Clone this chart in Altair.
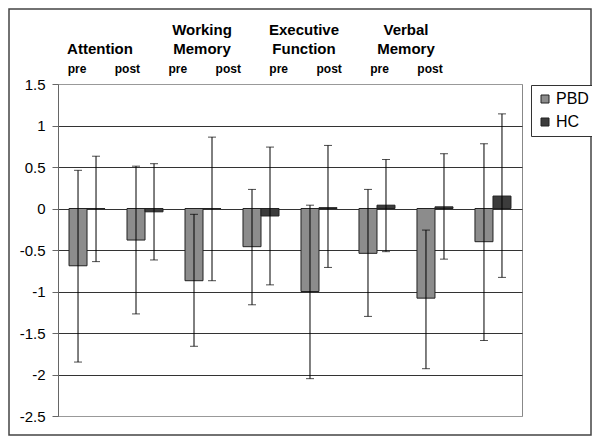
import altair as alt
import pandas as pd

# ---- data ----
groups = ["Attention pre", "Attention post", "Working Memory pre", "Working Memory post",
          "Executive Function pre", "Executive Function post", "Verbal Memory pre", "Verbal Memory post"]
phase_labels = ["pre", "post", "pre", "post", "pre", "post", "pre", "post"]
domains = ["Attention", "Working Memory", "Executive Function", "Verbal Memory"]
domain_line1 = ["", "Working", "Executive", "Verbal"]
domain_line2 = ["Attention", "Memory", "Function", "Memory"]
series = ["PBD", "HC"]

pbd_mean = [-0.69, -0.38, -0.87, -0.46, -1.00, -0.54, -1.08, -0.40]
pbd_hi = [0.46, 0.51, -0.07, 0.23, 0.04, 0.23, -0.26, 0.78]
pbd_lo = [-1.85, -1.27, -1.66, -1.16, -2.05, -1.30, -1.93, -1.59]
hc_mean = [0.0, -0.04, 0.0, -0.09, 0.01, 0.04, 0.02, 0.15]
hc_hi = [0.63, 0.54, 0.86, 0.74, 0.76, 0.59, 0.66, 1.14]
hc_lo = [-0.64, -0.62, -0.87, -0.92, -0.71, -0.52, -0.61, -0.83]

y_ticks = [1.5, 1, 0.5, 0, -0.5, -1, -1.5, -2, -2.5]

rows = []
for i, g in enumerate(groups):
    rows.append({"group": g, "series": "PBD", "mean": pbd_mean[i], "lo": pbd_lo[i], "hi": pbd_hi[i]})
    rows.append({"group": g, "series": "HC", "mean": hc_mean[i], "lo": hc_lo[i], "hi": hc_hi[i]})
df = pd.DataFrame(rows)

hdr_pp = pd.DataFrame({"group": groups, "label": phase_labels})
hdr_dom = pd.DataFrame({"domain": domains, "l1": domain_line1, "l2": domain_line2})

FONT = "Liberation Sans"

x_enc = alt.X("group:N", sort=groups, axis=None,
              scale=alt.Scale(paddingInner=0.379, paddingOuter=0.19))
xo_enc = alt.XOffset("series:N", sort=series, scale=alt.Scale(paddingInner=0, paddingOuter=0))
y_scale = alt.Scale(domain=[-2.5, 1.5], nice=False, zero=False)

bars = alt.Chart(df).mark_bar(stroke="#222", strokeWidth=1).encode(
    x=x_enc,
    xOffset=xo_enc,
    y=alt.Y("mean:Q", scale=y_scale, title=None,
            axis=alt.Axis(values=y_ticks, labelExpr="datum.value + ''",
                          labelFont=FONT, labelFontSize=15, labelColor="#000",
                          tickSize=6, labelPadding=7, tickColor="#666",
                          domainColor="#666",
                          gridColor={"condition": {"test": "datum.value == 1.5 || datum.value == -2.5",
                                                   "value": "#999"}, "value": "#333"},
                          gridWidth=1)),
    y2=alt.datum(0),
    color=alt.Color("series:N", sort=series,
                    scale=alt.Scale(domain=series, range=["#8c8c8c", "#3c3c3c"]),
                    legend=alt.Legend(title=None, orient="none", legendX=473, legendY=1,
                                      strokeColor="#333", fillColor="white", padding=6,
                                      labelFont=FONT, labelFontSize=16, labelColor="#000",
                                      symbolType="square", symbolSize=64,
                                      symbolStrokeColor="#222", symbolStrokeWidth=1,
                                      labelOffset=3, rowPadding=7)),
)

rules = alt.Chart(df).mark_rule(color="#000", strokeWidth=1).encode(
    x=x_enc, xOffset=xo_enc, y=alt.Y("lo:Q", scale=y_scale), y2="hi:Q"
)
caps_lo = alt.Chart(df).mark_tick(color="#000", thickness=1, size=8, orient="horizontal").encode(
    x=x_enc, xOffset=xo_enc, y=alt.Y("lo:Q", scale=y_scale)
)
caps_hi = alt.Chart(df).mark_tick(color="#000", thickness=1, size=8, orient="horizontal").encode(
    x=x_enc, xOffset=xo_enc, y=alt.Y("hi:Q", scale=y_scale)
)

data_layer = alt.layer(bars, rules, caps_lo, caps_hi)

pp_text = alt.Chart(hdr_pp).mark_text(font=FONT, fontSize=12, fontWeight="bold",
                                      baseline="alphabetic", color="#000").encode(
    x=alt.X("group:N", sort=groups, axis=None,
            scale=alt.Scale(type="point", range=[19, 372], padding=0)),
    y=alt.value(-11),
    text="label:N",
)
dom_scale = alt.Scale(type="point", range=[42, 348], padding=0)
dom1 = alt.Chart(hdr_dom).mark_text(font=FONT, fontSize=15, fontWeight="bold",
                                    baseline="alphabetic", color="#000").encode(
    x=alt.X("domain:N", sort=domains, axis=None, scale=dom_scale),
    y=alt.value(-49),
    text="l1:N",
)
dom2 = alt.Chart(hdr_dom).mark_text(font=FONT, fontSize=15, fontWeight="bold",
                                    baseline="alphabetic", color="#000").encode(
    x=alt.X("domain:N", sort=domains, axis=None, scale=dom_scale),
    y=alt.value(-30),
    text="l2:N",
)

frame = alt.Chart(alt.Data(values=[{"f": 1}])).mark_rect(
    filled=False, stroke="#444", strokeWidth=1.5).encode(
    x=alt.value(-49), x2=alt.value(533), y=alt.value(-75), y2=alt.value(351)
)

chart = alt.layer(data_layer, pp_text, dom1, dom2, frame).resolve_scale(
    x="independent"
).properties(
    width=464, height=332,
    padding={"left": 50, "top": 76, "right": 70, "bottom": 20},
    autosize=alt.AutoSizeParams(type="none"),
    background="white",
).configure_view(stroke="#888", strokeWidth=1)

chart.save("out.html", embed_options={"renderer": "svg", "actions": False})
